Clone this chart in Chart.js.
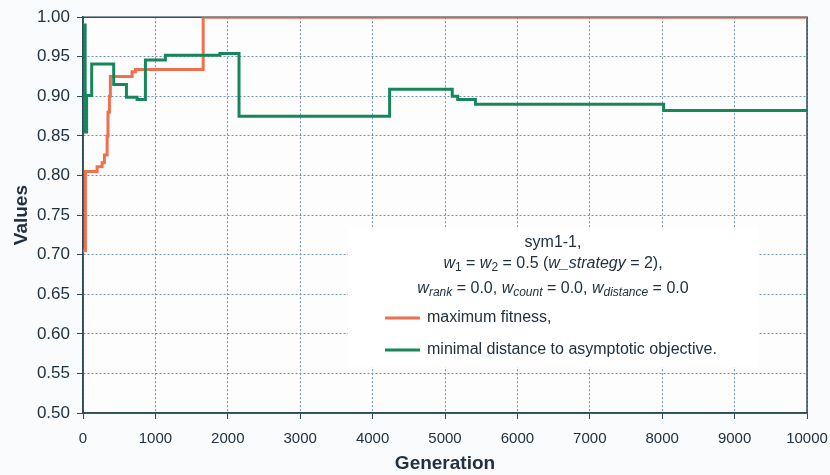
<!DOCTYPE html>
<html lang="en">
<head>
    <meta charset="UTF-8">
    <title>sym1-1 fitness and distance</title>
    <script src="https://cdn.jsdelivr.net/npm/chart.js"></script>
    <style>
        body {
            margin: 0;
            background-color: #fafbfd;
        }

        .chart-box {
            width: 830px;
            height: 475px;
        }
    </style>
</head>
<body>
    <div class="chart-box">
        <canvas id="fitnessChart" width="830" height="475"></canvas>
    </div>

    <script>
        // Maximum fitness (step changes: generation -> new value)
        const fitnessGen = [0, 33, 195, 264, 296, 333, 345, 365, 378, 678, 724, 1660, 10000];
        const fitnessVal = [0.705, 0.805, 0.811, 0.816, 0.826, 0.85, 0.88, 0.90, 0.925, 0.931, 0.934, 1.0, 1.0];

        // Minimal distance to asymptotic objective
        const distanceGen = [0, 30, 50, 120, 424, 600, 747, 862, 1138, 1890, 2155, 4235, 5100, 5175, 5420, 8020, 10000];
        const distanceVal = [0.99, 0.855, 0.901, 0.941, 0.915, 0.899, 0.896, 0.946, 0.952, 0.954, 0.875, 0.909, 0.900, 0.896, 0.890, 0.882, 0.882];

        const seriesLabels = ['maximum fitness,', 'minimal distance to asymptotic objective.'];
        const FONT = '"Liberation Sans", Arial, sans-serif';
        const TEXT = '#22313f';

        const toPoints = (xs, ys) => xs.map((x, i) => ({ x: x, y: ys[i] }));

        // draws a line of text made of runs (italic / subscript), centred on cx
        function drawRuns(ctx, runs, cx, y) {
            const fontFor = r => (r.i ? 'italic ' : '') + (r.s ? 12 : 16) + 'px ' + FONT;
            let w = 0;
            runs.forEach(r => { ctx.font = fontFor(r); w += ctx.measureText(r.t).width; });
            let x = cx - w / 2;
            runs.forEach(r => {
                ctx.font = fontFor(r);
                ctx.fillText(r.t, x, y + (r.s ? 4 : 0));
                x += ctx.measureText(r.t).width;
            });
        }

        const framePlugin = {
            id: 'frame',
            beforeDraw(chart) {
                const { ctx, chartArea: a } = chart;
                ctx.save();
                ctx.fillStyle = '#fdfdfe';
                ctx.fillRect(a.left, a.top, a.width, a.height);
                ctx.restore();
            },
            beforeDatasetsDraw(chart) {
                const { ctx, chartArea: a } = chart;
                ctx.save();
                // legend box hides the grid
                ctx.fillStyle = '#ffffff';
                ctx.fillRect(348, 227, 410, 140);

                ctx.strokeStyle = '#2d4b5c';
                ctx.lineWidth = 1.5;
                ctx.strokeRect(a.left, a.top, a.width, a.height);

                ctx.fillStyle = TEXT;
                ctx.textBaseline = 'middle';
                drawRuns(ctx, [{ t: 'sym1-1,' }], 553, 243);
                drawRuns(ctx, [
                    { t: 'w', i: 1 }, { t: '1', s: 1 }, { t: ' = ' },
                    { t: 'w', i: 1 }, { t: '2', s: 1 }, { t: ' = 0.5 (' },
                    { t: 'w_strategy', i: 1 }, { t: ' = 2),' }
                ], 553, 264);
                drawRuns(ctx, [
                    { t: 'w', i: 1 }, { t: 'rank', i: 1, s: 1 }, { t: ' = 0.0, ' },
                    { t: 'w', i: 1 }, { t: 'count', i: 1, s: 1 }, { t: ' = 0.0, ' },
                    { t: 'w', i: 1 }, { t: 'distance', i: 1, s: 1 }, { t: ' = 0.0' }
                ], 553, 289);

                // legend entries
                const rows = [318, 350];
                ctx.font = '16px ' + FONT;
                ctx.textAlign = 'left';
                chart.data.datasets.forEach((ds, i) => {
                    const y = rows[i];
                    ctx.strokeStyle = ds.borderColor;
                    ctx.lineWidth = 3;
                    ctx.beginPath();
                    ctx.moveTo(385, y);
                    ctx.lineTo(420, y);
                    ctx.stroke();
                    ctx.fillText(ds.label, 427, y);
                });
                ctx.restore();
            }
        };

        const gridStyle = {
            color: '#6f93ab',
            tickColor: '#2d4b5c',
            tickLength: 6,
            tickBorderDash: []
        };

        const chart = new Chart(document.getElementById('fitnessChart'), {
            type: 'line',
            data: {
                datasets: [
                    {
                        label: seriesLabels[0],
                        data: toPoints(fitnessGen, fitnessVal),
                        borderColor: '#f0704e',
                        borderWidth: 3,
                        stepped: true,
                        pointRadius: 0,
                        order: 2
                    },
                    {
                        label: seriesLabels[1],
                        data: toPoints(distanceGen, distanceVal),
                        borderColor: '#17865a',
                        borderWidth: 3,
                        stepped: true,
                        pointRadius: 0,
                        order: 1
                    }
                ]
            },
            options: {
                responsive: false,
                animation: false,
                layout: { padding: { top: 17, right: 0, bottom: 0, left: 0 } },
                plugins: {
                    legend: { display: false },
                    tooltip: { enabled: false }
                },
                scales: {
                    x: {
                        type: 'linear',
                        min: 0,
                        max: 10000,
                        grid: gridStyle,
                        border: { display: true, color: '#2d4b5c', width: 1.5, dash: [2, 2] },
                        ticks: {
                            stepSize: 1000,
                            padding: 11,
                            color: TEXT,
                            font: { family: FONT, size: 15 },
                            maxRotation: 0,
                            callback: v => String(v)
                        },
                        title: {
                            display: true,
                            text: 'Generation',
                            color: TEXT,
                            font: { family: FONT, size: 19, weight: 'bold' },
                            padding: { top: 0, bottom: 0 }
                        },
                        afterFit: scale => {
                            scale.height = 62;
                            scale.paddingRight = 23;
                        }
                    },
                    y: {
                        min: 0.5,
                        max: 1.0,
                        grid: gridStyle,
                        border: { display: true, color: '#2d4b5c', width: 1.5, dash: [2, 2] },
                        ticks: {
                            stepSize: 0.05,
                            padding: 7,
                            color: TEXT,
                            font: { family: FONT, size: 17 },
                            callback: v => v.toFixed(2)
                        },
                        title: {
                            display: true,
                            text: 'Values',
                            color: TEXT,
                            font: { family: FONT, size: 19, weight: 'bold' },
                            padding: { top: 10, bottom: 0 }
                        },
                        afterFit: scale => { scale.width = 83; }
                    }
                }
            },
            plugins: [framePlugin]
        });
    </script>
</body>
</html>
